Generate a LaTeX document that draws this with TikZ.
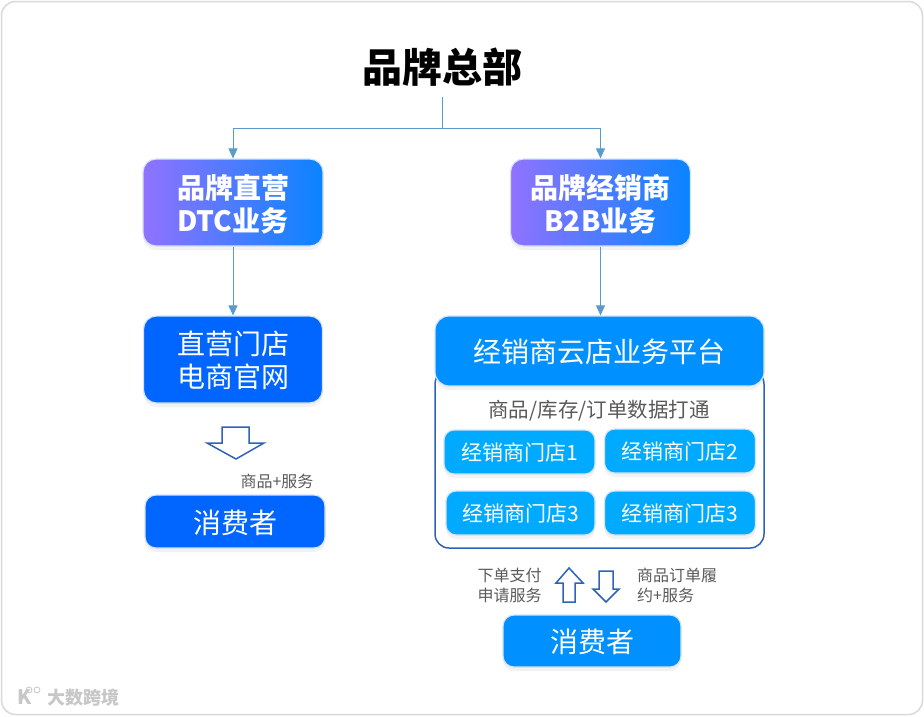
\documentclass[tikz,border=0pt]{standalone}
\usepackage{fontspec}
\setmainfont{Noto Sans CJK SC}
\usetikzlibrary{arrows.meta,shadows}

\definecolor{flowblue}{HTML}{5B9BCB}
\definecolor{wallblue}{HTML}{2F62B8}
\definecolor{haloblue}{HTML}{D5E3F8}
\definecolor{gradleft}{HTML}{9072FF}
\definecolor{gradright}{HTML}{0A84FF}
\definecolor{deepblue}{HTML}{0066FF}
\definecolor{midblue}{HTML}{0090FF}
\definecolor{lightblue}{HTML}{00AAFF}
\definecolor{notegray}{HTML}{5A5A5A}

\tikzset{
  card/.style={draw=haloblue, line width=1.2pt, rounded corners=13pt, inner sep=0pt, text=white, text depth=0pt,
    align=center, drop shadow={shadow xshift=0pt, shadow yshift=-4pt, opacity=.10}},
  gradcard/.style={card, left color=gradleft, right color=gradright, minimum width=180pt, minimum height=87pt,
    font=\fontsize{28}{33}\selectfont\bfseries},
  storecard/.style={card, fill=lightblue, minimum width=151pt, minimum height=44pt, rounded corners=10pt,
    font=\fontsize{21}{24}\selectfont},
  note/.style={text=notegray, inner sep=0pt, text depth=0pt, font=\fontsize{16}{20}\selectfont},
  flow/.style={draw=flowblue, line width=.8pt},
  hollow/.style={draw=wallblue, line width=1.5pt, fill=white, line join=miter}
}

\begin{document}
\begin{tikzpicture}[x=1pt, y=-1pt, >={Triangle[width=9pt,length=10pt]}]
    \useasboundingbox (0,0) rectangle (924,716);
    \node[draw=black!15, line width=1.5pt, fill=white, rounded corners=14pt, minimum width=921pt, minimum height=713pt, inner sep=0pt](frame) at (462,358){};

    \node[minimum height=60pt, inner sep=0pt, font=\fontsize{40}{44}\selectfont\bfseries](title) at (442,67){品牌总部};
    \coordinate(hqjoin) at (442,128);

    \node[gradcard](dtc) at (233,202.5){品牌直营\\DTC业务};
    \node[gradcard](dealer) at (600.5,202.5){品牌经销商\\B2B业务};
    \node[card, fill=deepblue, minimum width=179pt, minimum height=87pt, font=\fontsize{28}{33}\selectfont](shop) at (233,359.5){直营门店\\电商官网};
    \node[card, fill=deepblue, minimum width=180pt, minimum height=53pt, rounded corners=11pt, font=\fontsize{28}{33}\selectfont](buyerl) at (235,521.5){消费者};

    \node[draw=wallblue, line width=1.5pt, fill=white, rounded corners=14pt, minimum width=329pt, minimum height=178pt, inner sep=0pt](wall) at (599.5,459){};
    \node[card, fill=midblue, minimum width=329pt, minimum height=70pt, rounded corners=14pt, font=\fontsize{28}{33}\selectfont](platform) at (599.5,351){经销商云店业务平台};
    \node[text=notegray, inner sep=0pt, text depth=0pt, font=\fontsize{20.5}{24}\selectfont](sync) at (599,409){商品/库存/订单数据打通};
    \node[storecard](storea) at (519.5,452){经销商门店1};
    \node[storecard](storeb) at (680,451){经销商门店2};
    \node[storecard, minimum width=149pt](storec) at (520.5,513){经销商门店3};
    \node[storecard](stored) at (680,513){经销商门店3};
    \node[card, fill=midblue, minimum width=178pt, minimum height=52pt, rounded corners=11pt, font=\fontsize{28}{33}\selectfont](buyerr) at (592,641){消费者};

    \node[note](notel) at (277,481){商品+服务};
    \node[note, align=center](notem) at (509.5,585){下单支付\\申请服务};
    \node[note, align=left, anchor=west](noter) at (637,585){商品订单履\\约+服务};

    \path[hollow] (222,427) -- (249,427) -- (249,443) -- (264,443) -- (236,459) -- (207,443) -- (222,443) -- cycle;
    \path[hollow] (569,568) -- (583,583) -- (575,583) -- (575,602) -- (563,602) -- (563,583) -- (556,583) -- cycle;
    \path[hollow] (599,571) -- (613,571) -- (613,589) -- (619,589) -- (606,602) -- (593,589) -- (599,589) -- cycle;

    \draw[flow] (title.south) -- (hqjoin);
    \draw[flow, ->] (hqjoin) -| (dtc.north);
    \draw[flow, ->] (hqjoin) -| (dealer.north);
    \draw[flow, ->] (dtc.south) -- (shop.north);
    \draw[flow, ->] (dealer.south) -- (dealer.south |- platform.north);

    \node[text=black!22, inner sep=0pt, font=\fontsize{18}{20}\selectfont\bfseries](mark) at (83,698){大数跨境};
    \node[text=black!22, inner sep=0pt, font=\fontsize{20}{20}\selectfont\bfseries](logo) at (25,697){K};
    \node[draw=black!22, line width=.8pt, circle, minimum size=6pt, inner sep=0pt](loga) at (29,690){};
    \node[draw=black!22, line width=.8pt, circle, minimum size=6pt, inner sep=0pt](logb) at (37,690){};
  \end{tikzpicture}
\end{document}
